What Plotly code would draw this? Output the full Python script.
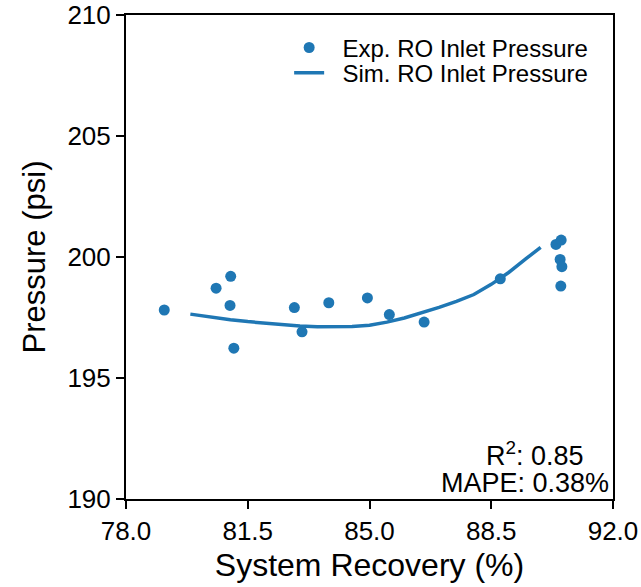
import plotly.graph_objects as go

exp_recovery = [79.10, 80.59, 81.01, 80.99, 81.10, 82.84, 83.06, 83.83, 84.94,
                85.57, 86.57, 88.76, 90.36, 90.51, 90.48, 90.53, 90.50]
exp_pressure = [197.81, 198.71, 199.20, 198.00, 196.23, 197.91, 196.91, 198.11, 198.31,
                197.62, 197.31, 199.10, 200.52, 200.70, 199.90, 199.60, 198.80]

sim_recovery = [79.85, 80.5, 81.0, 81.5, 82.0, 82.5, 83.0, 83.5, 84.0, 84.5, 85.0,
                85.5, 86.0, 86.5, 87.0, 87.5, 88.0, 88.5, 89.0, 89.5, 89.92]
sim_pressure = [197.64, 197.50, 197.41, 197.33, 197.26, 197.20, 197.15, 197.12, 197.11,
                197.13, 197.18, 197.31, 197.48, 197.69, 197.92, 198.17, 198.45, 198.87,
                199.36, 199.93, 200.40]

x_ticks = [78.0, 81.5, 85.0, 88.5, 92.0]
y_ticks = [190, 195, 200, 205, 210]

blue = "#1f77b4"
font_family = "Liberation Sans, Arial, sans-serif"
pad = "\u00a0\u00a0"

fig = go.Figure()
fig.add_trace(go.Scatter(x=exp_recovery, y=exp_pressure, mode="markers",
                         name=pad + "Exp. RO Inlet Pressure", showlegend=True,
                         marker=dict(color=blue, size=11), legend="legend"))
fig.add_trace(go.Scatter(x=sim_recovery, y=sim_pressure, mode="lines",
                         name=pad + "Sim. RO Inlet Pressure", showlegend=True,
                         line=dict(color=blue, width=3.5), legend="legend2"))

axis_common = dict(showline=True, linecolor="black", linewidth=2, mirror=True,
                   ticks="outside", ticklen=8, tickwidth=1.5, tickcolor="black",
                   showgrid=False, zeroline=False, automargin=False,
                   tickfont=dict(size=26, color="black", family=font_family))

fig.update_layout(
    width=641, height=587,
    showlegend=True,
    margin=dict(l=126, r=28, t=15, b=88),
    plot_bgcolor="white", paper_bgcolor="white",
    font=dict(family=font_family, color="black"),
    xaxis=dict(range=[78, 92], tickvals=x_ticks,
               ticktext=[f"{v:.1f}" for v in x_ticks],
               title=dict(text="System Recovery (%)", font=dict(size=32), standoff=8),
               **axis_common),
    yaxis=dict(range=[190, 210], tickvals=y_ticks,
               ticktext=[str(v) for v in y_ticks],
               title=dict(text="Pressure (psi)", font=dict(size=31), standoff=13),
               **axis_common),
    legend=dict(x=0.335, y=0.932, xanchor="left", yanchor="middle",
                bgcolor="rgba(0,0,0,0)", font=dict(size=24), itemwidth=30),
    legend2=dict(x=0.335, y=0.880, xanchor="left", yanchor="middle",
                 bgcolor="rgba(0,0,0,0)", font=dict(size=24), itemwidth=30),
    annotations=[
        dict(xref="paper", yref="paper", x=0.84, y=0.093, xanchor="center",
             yanchor="middle", text="R<sup>2</sup>: 0.85", showarrow=False,
             font=dict(size=27, color="black")),
        dict(xref="paper", yref="paper", x=0.82, y=0.033, xanchor="center",
             yanchor="middle", text="MAPE: 0.38%", showarrow=False,
             font=dict(size=27, color="black")),
    ],
)

fig.write_html("out.html")
